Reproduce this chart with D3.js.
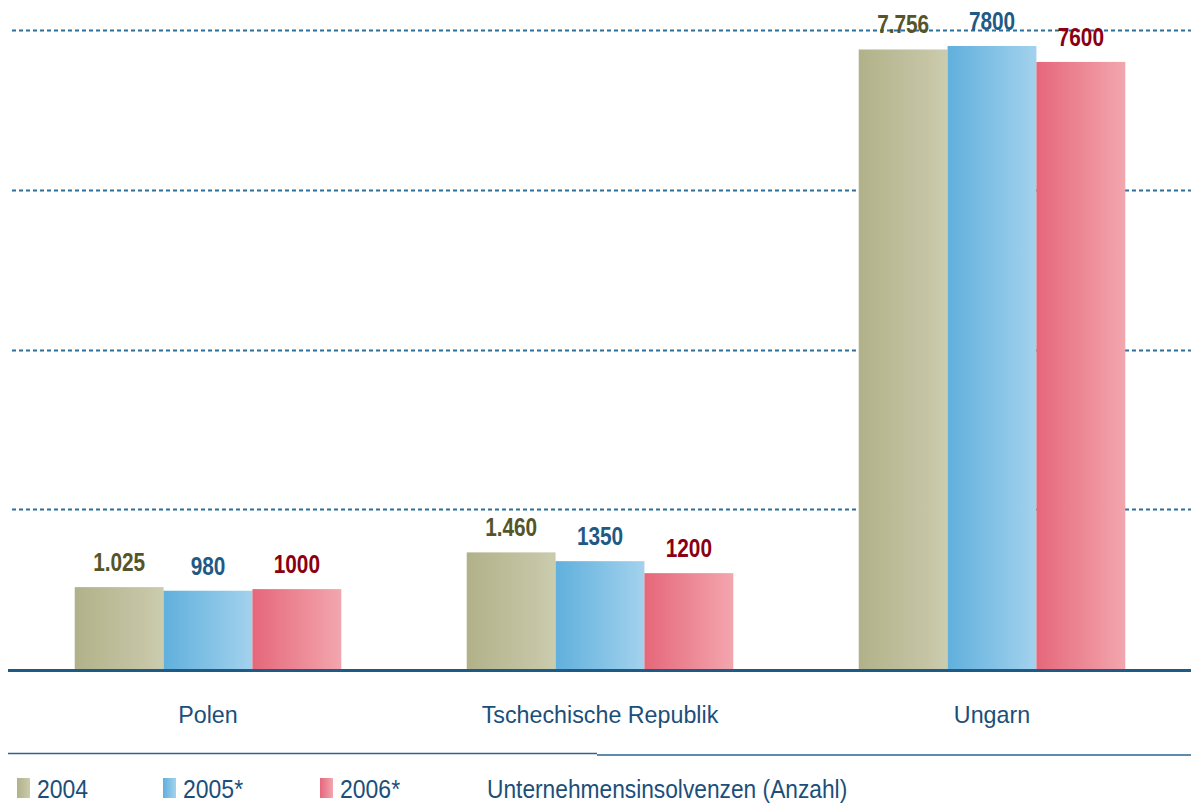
<!DOCTYPE html>
<html>
<head>
<meta charset="utf-8">
<script src="https://cdn.jsdelivr.net/npm/d3@7"></script>
<style>
  body { margin: 0; background: #fff; }
  svg { display: block; }
  text { font-family: "Liberation Sans", Arial, sans-serif; }
</style>
</head>
<body>
<div id="chart"></div>
<script>
var categories = ["Polen", "Tschechische Republik", "Ungarn"];
var years = ["2004", "2005*", "2006*"];
var values2004 = [1025, 1460, 7756];
var values2005 = [980, 1350, 7800];
var values2006 = [1000, 1200, 7600];
var labels2004 = ["1.025", "1.460", "7.756"];
var labels2005 = ["980", "1350", "7800"];
var labels2006 = ["1000", "1200", "7600"];
var gridTicks = [2000, 4000, 6000, 8000];
var legendTitle = "Unternehmensinsolvenzen (Anzahl)";

var width = 1191, height = 803;
var baseY = 669;

var series = [
  { name: years[0], values: values2004, labels: labels2004, c0: "#b1b189", c1: "#cbcbae", text: "#55552a" },
  { name: years[1], values: values2005, labels: labels2005, c0: "#60b0dd", c1: "#a3d2ed", text: "#1f5a85" },
  { name: years[2], values: values2006, labels: labels2006, c0: "#e5677a", c1: "#f3a6ae", text: "#8a0012" }
];

// condensed look: squeeze text horizontally around its anchor
function placeText(sel, fx, fy, sx) {
  sel.attr("transform", function(d, i){
    return "translate(" + fx(d, i) + "," + fy(d, i) + ") scale(" + sx + ",1)";
  });
}

var svg = d3.select("#chart").append("svg")
  .attr("width", width)
  .attr("height", height);

var defs = svg.append("defs");
series.forEach(function(s, i){
  var g = defs.append("linearGradient").attr("id", "grad" + i)
    .attr("x1", "0%").attr("x2", "100%").attr("y1", "0%").attr("y2", "0%");
  g.append("stop").attr("offset", "0%").attr("stop-color", s.c0);
  g.append("stop").attr("offset", "100%").attr("stop-color", s.c1);
});

var y = d3.scaleLinear().domain([0, 8000]).range([baseY, 30]);

var x0 = d3.scaleBand().domain(categories).range([12, 1188]).paddingInner(0.32).paddingOuter(0.16);
var x1 = d3.scaleBand().domain(years).range([0, x0.bandwidth()]);

// dashed gridlines
svg.append("g").selectAll("line")
  .data(gridTicks)
  .enter().append("line")
  .attr("x1", 12).attr("x2", width)
  .attr("y1", function(d){ return Math.round(y(d)) + 0.5; })
  .attr("y2", function(d){ return Math.round(y(d)) + 0.5; })
  .attr("stroke", "#2c6e9c")
  .attr("stroke-width", 2)
  .attr("stroke-dasharray", "4,3");

// bars
var groups = svg.append("g").selectAll("g")
  .data(categories)
  .enter().append("g")
  .attr("transform", function(d){ return "translate(" + x0(d) + ",0)"; });

series.forEach(function(s, si){
  groups.append("rect")
    .attr("x", x1(s.name))
    .attr("width", x1.bandwidth())
    .attr("y", function(d, i){ return y(s.values[i]); })
    .attr("height", function(d, i){ return baseY - y(s.values[i]); })
    .attr("fill", "url(#grad" + si + ")");

  groups.append("text")
    .call(placeText,
      function(){ return x1(s.name) + x1.bandwidth() / 2; },
      function(d, i){ return y(s.values[i]) - 16; }, 0.8)
    .attr("text-anchor", "middle")
    .attr("font-size", 26)
    .attr("font-weight", "bold")
    .attr("fill", s.text)
    .text(function(d, i){ return s.labels[i]; });
});

// baseline
svg.append("line")
  .attr("x1", 8).attr("x2", width)
  .attr("y1", baseY + 1.5).attr("y2", baseY + 1.5)
  .attr("stroke", "#1d5a86").attr("stroke-width", 3);

// category labels
svg.append("g").selectAll("text")
  .data(categories)
  .enter().append("text")
  .call(placeText, function(d){ return x0(d) + x0.bandwidth() / 2; }, function(){ return 723; }, 0.97)
  .attr("text-anchor", "middle")
  .attr("font-size", 24)
  .attr("fill", "#1b4f7a")
  .text(function(d){ return d; });

// separator above legend
svg.append("line").attr("x1", 8).attr("x2", 597).attr("y1", 753.5).attr("y2", 753.5)
  .attr("stroke", "#2a6690").attr("stroke-width", 1.5);
svg.append("line").attr("x1", 597).attr("x2", width).attr("y1", 755).attr("y2", 755)
  .attr("stroke", "#2a6690").attr("stroke-width", 1.5);

// legend
var legendX = [17, 163, 320];
var legend = svg.append("g").selectAll("g")
  .data(series)
  .enter().append("g")
  .attr("transform", function(d, i){ return "translate(" + legendX[i] + ",0)"; });

legend.append("rect")
  .attr("x", 0).attr("y", 778)
  .attr("width", 13).attr("height", 20)
  .attr("fill", function(d, i){ return "url(#grad" + i + ")"; });

legend.append("text")
  .call(placeText, function(){ return 20; }, function(){ return 798; }, 0.92)
  .attr("font-size", 25)
  .attr("fill", "#1b4f7a")
  .text(function(d){ return d.name; });

svg.append("text")
  .call(placeText, function(){ return 487; }, function(){ return 798; }, 0.91)
  .attr("font-size", 25)
  .attr("fill", "#1b4f7a")
  .text(legendTitle);
</script>
</body>
</html>
